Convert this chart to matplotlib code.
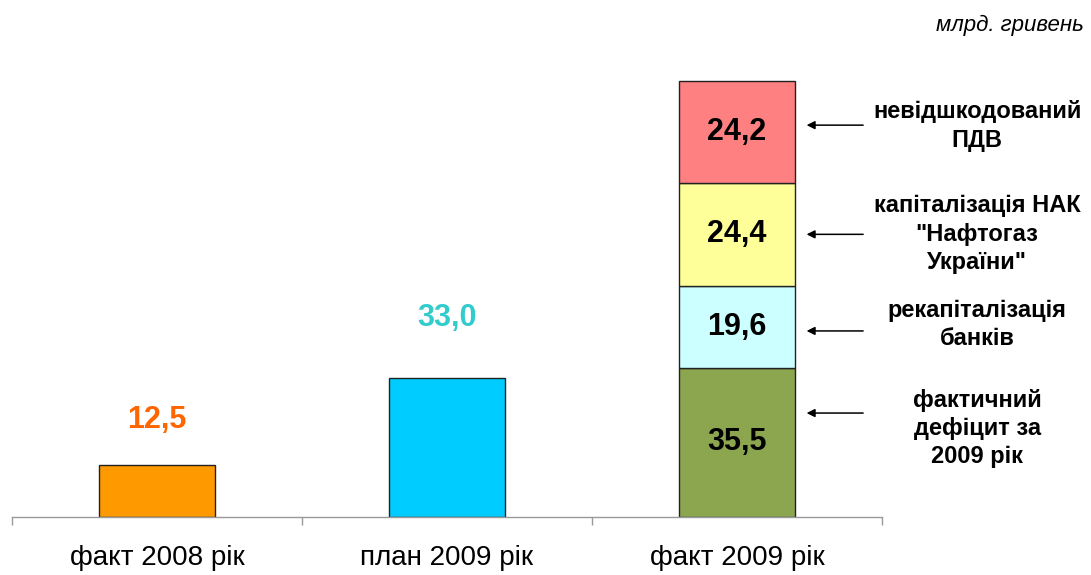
import matplotlib.pyplot as plt
import numpy as np

plt.rcParams['font.family'] = ['Liberation Sans', 'DejaVu Sans']

# data
categories = ['факт 2008 рік', 'план 2009 рік', 'факт 2009 рік']
single_values = [12.5, 33.0]
single_colors = ['#FF9900', '#00CCFF']
single_label_colors = ['#FF6600', '#33CCCC']

stack_values = [35.5, 19.6, 24.4, 24.2]
stack_colors = ['#8CA650', '#CCFFFF', '#FFFF99', '#FF8080']
stack_labels = ['фактичний\nдефіцит за\n2009 рік',
                'рекапіталізація\nбанків',
                'капіталізація НАК\n"Нафтогаз\nУкраїни"',
                'невідшкодований\nПДВ']

unit_text = 'млрд. гривень'

# layout tweaks (label offsets in data units)
single_label_offset = [10.6, 14.4]
arrow_offset = [7.0, -1.0, 0.0, 1.7]
note_offset = [3.3, 0.5, 0.0, 1.5]

fig = plt.figure(figsize=(10.91, 5.75), dpi=100)
ax = fig.add_axes([12 / 1091, 58 / 575, 870 / 1091, 462 / 575])

x = np.arange(len(categories))
width = 0.4

# first two bars
for i, v in enumerate(single_values):
    ax.bar(x[i], v, width, color=single_colors[i], edgecolor='#222222', linewidth=1)
    ax.text(x[i], v + single_label_offset[i], f"{v:.1f}".replace('.', ','),
            ha='center', va='center', fontsize=22, fontweight='bold',
            color=single_label_colors[i])

# stacked bar
bottom = 0
bar_right = x[2] + width / 2
for j, v in enumerate(stack_values):
    ax.bar(x[2], v, width, bottom=bottom, color=stack_colors[j],
           edgecolor='#222222', linewidth=1)
    mid = bottom + v / 2
    ax.text(x[2], mid, f"{v:.1f}".replace('.', ','), ha='center', va='center',
            fontsize=22, fontweight='bold', color='black')
    ay = mid + arrow_offset[j]
    ax.annotate('', xy=(bar_right + 0.04, ay), xytext=(bar_right + 0.235, ay),
                arrowprops=dict(arrowstyle='-|>', color='black', lw=1.1,
                                mutation_scale=12, shrinkA=0, shrinkB=0),
                annotation_clip=False)
    ax.text(2.828, mid + note_offset[j], stack_labels[j], ha='center', va='center',
            fontsize=17, fontweight='bold', linespacing=1.3, multialignment='center')
    bottom += v

ax.set_xlim(-0.5, 2.5)
ax.set_ylim(0, 110)

for s in ['left', 'right', 'top']:
    ax.spines[s].set_visible(False)
ax.spines['bottom'].set_color('#999999')
ax.spines['bottom'].set_linewidth(1)
ax.set_yticks([])

ax.set_xticks(x)
ax.set_xticklabels(categories, fontsize=20)
ax.tick_params(axis='x', which='major', length=0, pad=20)
ax.set_xticks([-0.5, 0.5, 1.5, 2.5], minor=True)
ax.tick_params(axis='x', which='minor', length=6, color='#999999', width=1, direction='out')

fig.text(1084 / 1091, 1 - 25 / 575, unit_text, ha='right', va='center',
         fontsize=16, style='italic')

fig.savefig('out.png', dpi=100)
